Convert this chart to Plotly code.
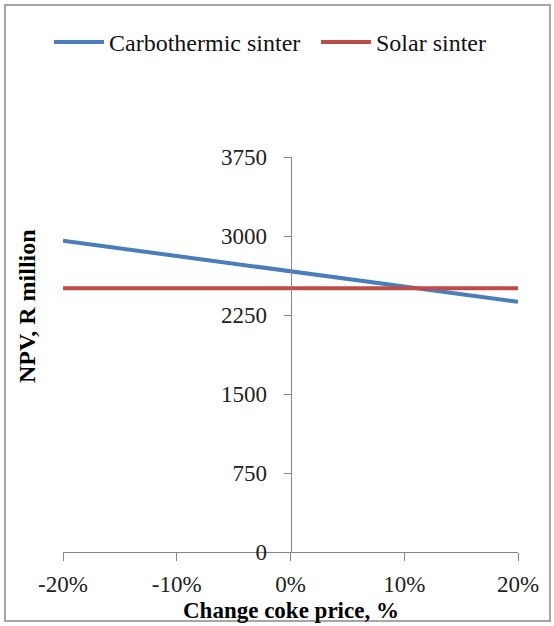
import plotly.graph_objects as go

# Data
x_change = [-20, -10, 0, 10, 20]
x_tick_labels = ["-20%", "-10%", "0%", "10%", "20%"]
carbothermic_npv = [2955, 2810, 2665, 2520, 2375]
solar_npv = [2505, 2505, 2505, 2505, 2505]
y_ticks = [0, 750, 1500, 2250, 3000, 3750]

W, H = 554, 626
L, R, T, B = 63, 36, 157, 74
pw, ph = W - L - R, H - T - B

FONT = "Liberation Serif"

fig = go.Figure()
fig.add_trace(go.Scatter(x=x_change, y=carbothermic_npv, mode="lines",
                         name="Carbothermic sinter", legend="legend",
                         line=dict(color="#4A7EBB", width=4), cliponaxis=False))
fig.add_trace(go.Scatter(x=x_change, y=solar_npv, mode="lines",
                         name="Solar sinter", legend="legend2",
                         line=dict(color="#BE4B48", width=4), cliponaxis=False))

def px_x(p):
    return (p - L) / pw

def px_y(p):
    return (H - B - p) / ph

# outer frame
fig.add_shape(type="rect", xref="paper", yref="paper",
              x0=px_x(5), x1=px_x(550), y0=px_y(621), y1=px_y(5),
              line=dict(color="#A6A6A6", width=2), layer="below")

fig.add_annotation(text="<b>NPV, R million</b>", xref="paper", yref="paper",
                   x=px_x(27), y=px_y(306), textangle=-90, showarrow=False,
                   xanchor="center", yanchor="middle",
                   font=dict(family=FONT, size=24, color="#000000"))

fig.add_annotation(text="<b>Change coke price, %</b>", xref="paper", yref="paper",
                   x=0.5, y=px_y(610), showarrow=False,
                   xanchor="center", yanchor="middle",
                   font=dict(family=FONT, size=23, color="#000000"))

leg_common = dict(orientation="h", xref="container", yref="container",
                  xanchor="left", yanchor="top", itemwidth=50,
                  font=dict(family=FONT, size=24, color="#111111"),
                  bgcolor="rgba(0,0,0,0)")

fig.update_layout(
    width=W, height=H,
    margin=dict(l=L, r=R, t=T, b=B, autoexpand=False),
    paper_bgcolor="white", plot_bgcolor="white",
    font=dict(family=FONT, size=23, color="#222222"),
    showlegend=True,
    legend=dict(x=49 / W, y=1 - 20 / H, **leg_common),
    legend2=dict(x=316 / W, y=1 - 20 / H, **leg_common),
    xaxis=dict(range=[-20, 20], tickvals=x_change, ticktext=x_tick_labels,
               showgrid=False, zeroline=False, showline=True,
               linecolor="#868686", linewidth=1, ticks="outside",
               ticklen=8, tickcolor="#868686", ticklabelstandoff=3),
    yaxis=dict(range=[0, 3750], tickvals=y_ticks,
               anchor="free", position=0.5,
               showgrid=False, zeroline=False, showline=True,
               linecolor="#868686", linewidth=1, ticks="outside",
               ticklen=7, tickcolor="#868686", ticklabelstandoff=12),
)

fig.write_html("out.html", config={"displayModeBar": False},
               post_script="document.body.style.margin='0';document.body.style.overflow='hidden';")
